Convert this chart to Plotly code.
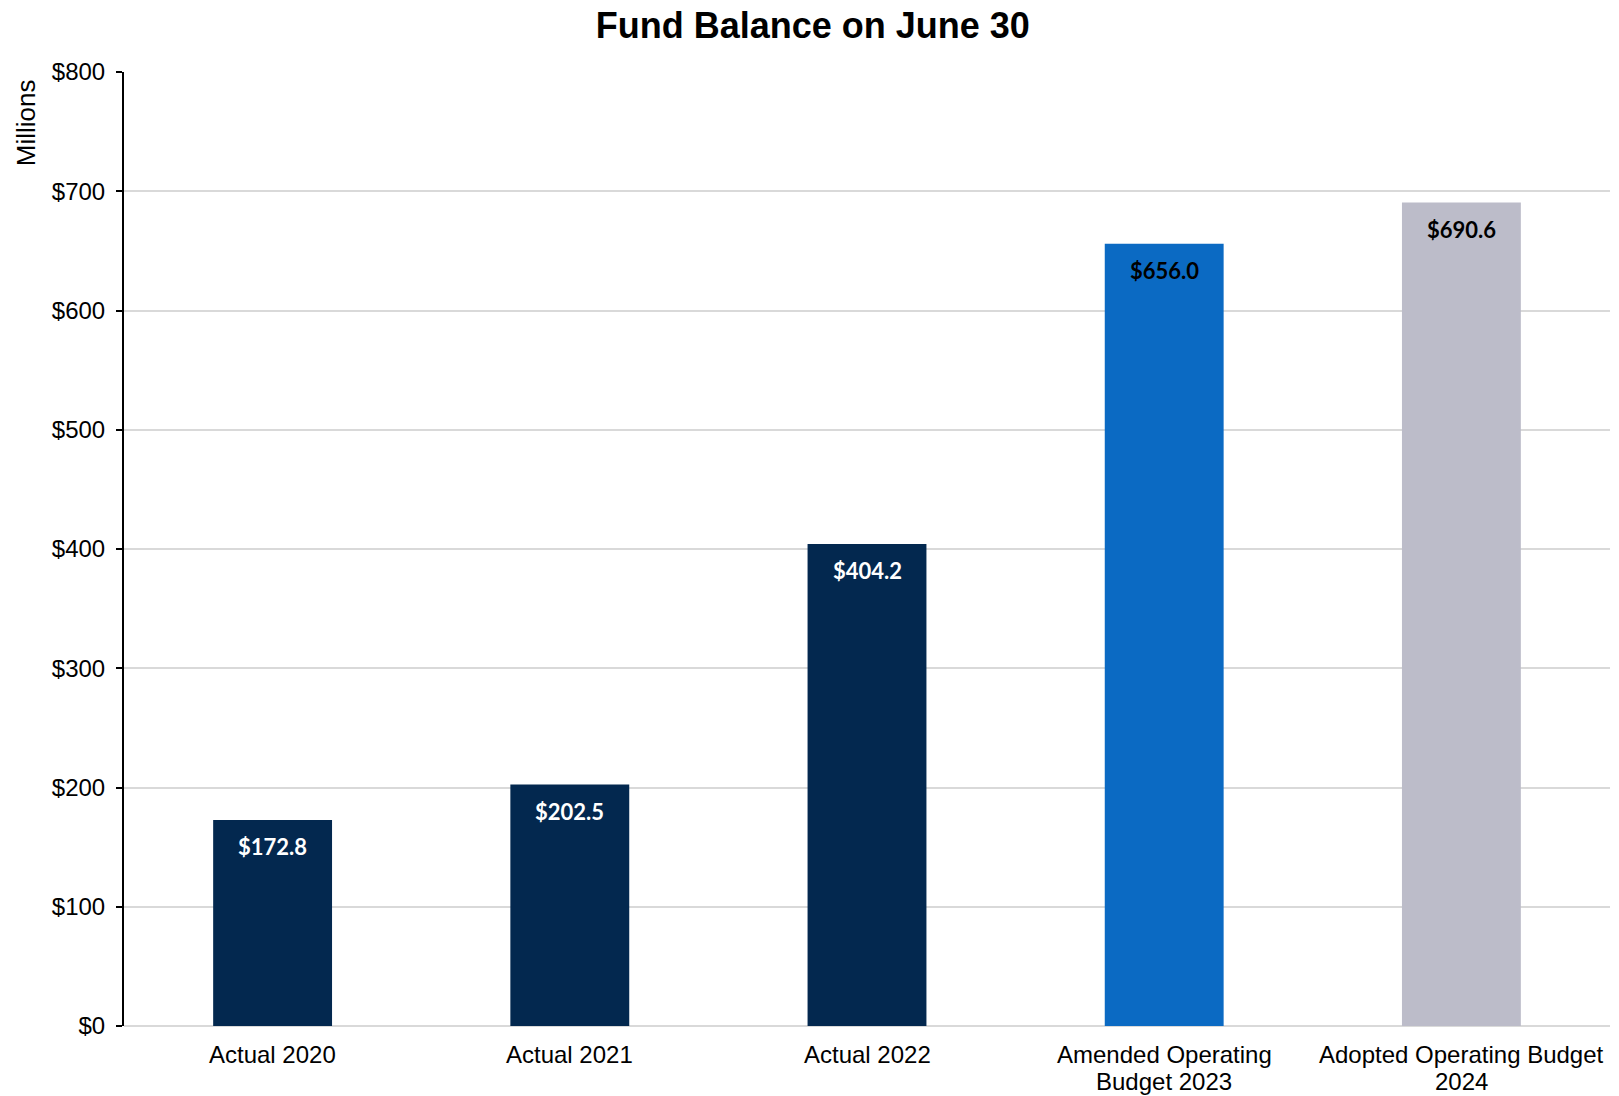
import plotly.graph_objects as go

# Fund balance at fiscal year end (June 30), in millions of dollars
categories = [
    "Actual 2020",
    "Actual 2021",
    "Actual 2022",
    "Amended Operating Budget 2023",
    "Adopted Operating Budget 2024",
]
# Category labels as printed under the axis, one list per text line
label_line1 = ["Actual 2020", "Actual 2021", "Actual 2022",
               "Amended Operating", "Adopted Operating Budget"]
label_line2 = ["", "", "", "Budget 2023", "2024"]

balances = [172.8, 202.5, 404.2, 656.0, 690.6]
value_labels = ["$172.8", "$202.5", "$404.2", "$656.0", "$690.6"]
y_ticks = [0, 100, 200, 300, 400, 500, 600, 700, 800]
y_tick_labels = ["$0", "$100", "$200", "$300", "$400", "$500", "$600", "$700", "$800"]

bar_colors = ["#03284f", "#03284f", "#03284f", "#0b6ac3", "#bcbcc9"]
label_colors = ["#ffffff", "#ffffff", "#ffffff", "#000000", "#000000"]

fig = go.Figure(
    go.Bar(
        x=categories,
        y=balances,
        marker=dict(color=bar_colors, line=dict(width=0)),
        hoverinfo="skip",
    )
)

# Value labels sit just inside the top of each bar
for cat, val, txt, col in zip(categories, balances, value_labels, label_colors):
    fig.add_annotation(
        x=cat, y=val, text=f"<b>{txt}</b>", showarrow=False,
        yanchor="middle", yshift=-27,
        font=dict(family="Lato", size=22, color=col),
    )

# Category labels below the axis, with tight line spacing
for cat, l1, l2 in zip(categories, label_line1, label_line2):
    for line, shift in ((l1, -28), (l2, -55)):
        if line:
            fig.add_annotation(
                x=cat, xref="x", y=0, yref="paper", text=line, showarrow=False,
                yanchor="middle", yshift=shift,
                font=dict(family="Liberation Sans, Arial", size=24, color="#000000"),
            )

# Axis unit label at the top left
fig.add_annotation(
    xref="paper", yref="paper", x=-0.066, y=0.995, xanchor="center", yanchor="top",
    text="Millions", textangle=-90, showarrow=False,
    font=dict(family="Liberation Sans, Arial", size=26, color="#000000"),
)

fig.update_layout(
    width=1619, height=1096,
    margin=dict(l=124, r=9, t=72, b=70),
    paper_bgcolor="white", plot_bgcolor="white",
    bargap=0.6,
    showlegend=False,
    title=dict(
        text="<b>Fund Balance on June 30</b>",
        x=0.502, xanchor="center", xref="container",
        y=0.977, yanchor="middle", yref="container",
        font=dict(family="Liberation Sans, Arial", size=36, color="#000000"),
    ),
    font=dict(family="Liberation Sans, Arial", size=24, color="#000000"),
)

fig.update_xaxes(
    showline=False, ticks="", showgrid=False, automargin=False,
    showticklabels=False,
)
fig.update_yaxes(
    range=[0, 800], tickvals=y_ticks, ticktext=y_tick_labels,
    showgrid=True, gridcolor="#d9d9d9", gridwidth=2,
    zeroline=True, zerolinecolor="#d9d9d9", zerolinewidth=2,
    showline=True, linecolor="#000000", linewidth=2,
    ticks="outside", ticklen=6, tickwidth=2, tickcolor="#000000",
    ticklabelstandoff=6, automargin=False,
    tickfont=dict(size=24, color="#000000"),
)

fig.write_html("out.html")
